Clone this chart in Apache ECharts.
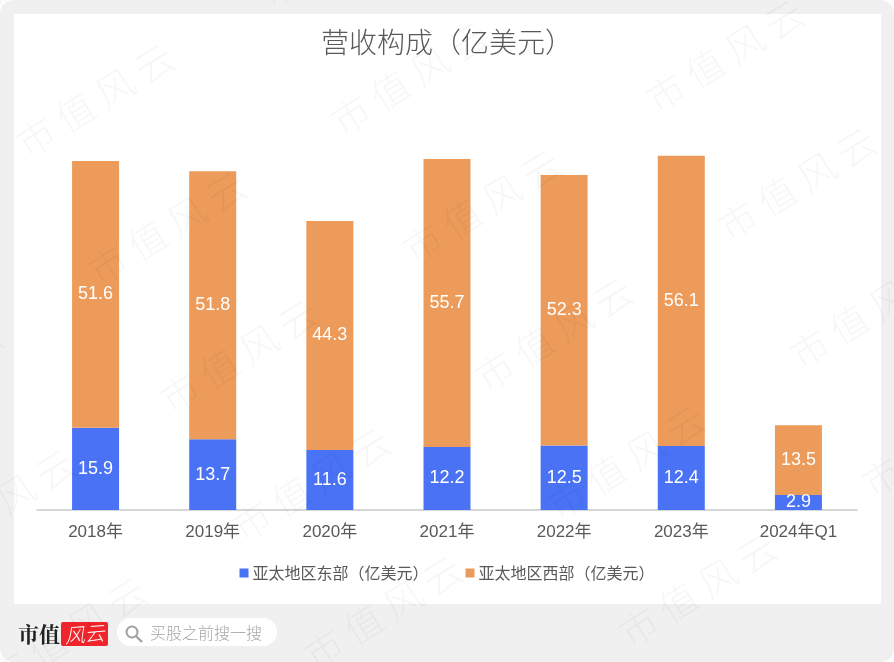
<!DOCTYPE html>
<html><head><meta charset="utf-8">
<style>html,body{margin:0;padding:0;background:#fff}#c{width:894px;height:662px}</style>
<script src="https://cdn.jsdelivr.net/npm/echarts@6/dist/echarts.min.js"></script>
</head><body><div id="c"></div>
<script>
const categories=['2018年','2019年','2020年','2021年','2022年','2023年','2024年Q1'];
const eastValues=[15.9,13.7,11.6,12.2,12.5,12.4,2.9];
const westValues=[51.6,51.8,44.3,55.7,52.3,56.1,13.5];
const eastName='亚太地区东部（亿美元）';
const westName='亚太地区西部（亿美元）';
const titleText='营收构成（亿美元）';
const cjk='"Noto Sans CJK SC","Liberation Sans",sans-serif';
const latin='"Liberation Sans","Noto Sans CJK SC",sans-serif';

const chart=echarts.init(document.getElementById('c'),null,{renderer:'canvas'});
const marks=[];
for(let r=-1;r<6;r++){for(let k=-1;k<5;k++){
  const x=95+k*315+r*72, y=100-k*22+r*128;
  if(x<-100||x>1000||y<-60||y>720)continue;
  marks.push({type:'text',x:x,y:y,rotation:32*Math.PI/180,z:100,silent:true,
    style:{text:'市 值 风 云',font:'300 38px '+cjk,fill:'rgba(0,0,0,0.035)',align:'center',verticalAlign:'middle'}});
}}
chart.setOption({
  animation:false,
  backgroundColor:'#fff',
  title:{text:titleText,left:'center',top:28,padding:0,
    textStyle:{fontFamily:cjk,fontSize:28,fontWeight:300,color:'#595959'}},
  legend:{bottom:76,left:'center',itemWidth:9,itemHeight:9,itemGap:37,icon:'rect',
    data:[eastName,westName],
    textStyle:{fontFamily:cjk,fontSize:16,color:'#595959',padding:[0,0,0,-1]}},
  grid:{left:37,right:37,top:96.4,bottom:152},
  xAxis:{type:'category',data:categories,
    axisTick:{show:false},
    axisLine:{lineStyle:{color:'#c9c9c9',width:1.5}},
    axisLabel:{fontFamily:latin,fontSize:17,color:'#595959',margin:14}},
  yAxis:{type:'value',min:0,max:80,show:false,splitLine:{show:false}},
  series:[
    {name:eastName,type:'bar',stack:'t',barWidth:47,data:eastValues,
     itemStyle:{color:'#4a72f5'},
     label:{show:true,position:'inside',color:'#fff',fontFamily:latin,fontSize:18}},
    {name:westName,type:'bar',stack:'t',barWidth:47,data:westValues,
     itemStyle:{color:'#ec9b5a'},
     label:{show:true,position:'inside',color:'#fff',fontFamily:latin,fontSize:18}}
  ],
  graphic:[
    {type:'rect',z:-20,silent:true,shape:{x:0,y:0,width:894,height:662,r:14},style:{fill:'#f0f0f0'}},
    {type:'rect',z:-10,silent:true,shape:{x:14,y:14,width:867,height:590},style:{fill:'#fff'}},
    {type:'text',x:18,y:634,z:5,silent:true,style:{text:'市值',font:'bold 21px "Noto Serif CJK SC","Noto Sans CJK SC",serif',fill:'#222',verticalAlign:'middle'}},
    {type:'rect',z:5,silent:true,shape:{x:61,y:622,width:47,height:24,r:2},style:{fill:'#f0252b'}},
    {type:'text',x:84.5,y:634,z:6,rotation:0.08,silent:true,style:{text:'风云',font:'italic 300 20px '+cjk,fill:'#fff',align:'center',verticalAlign:'middle'}},
    {type:'rect',z:5,silent:true,shape:{x:117,y:618,width:160,height:28,r:14},style:{fill:'#fff'}},
    {type:'circle',z:6,silent:true,shape:{cx:132,cy:632,r:5.5},style:{fill:'none',stroke:'#a0a0a0',lineWidth:2}},
    {type:'line',z:6,silent:true,shape:{x1:136,y1:636,x2:142,y2:642},style:{stroke:'#a0a0a0',lineWidth:2.2}},
    {type:'text',x:150,y:633,z:6,silent:true,style:{text:'买股之前搜一搜',font:'300 16px '+cjk,fill:'#a6a6a6',verticalAlign:'middle'}}
  ].concat(marks)
});
</script></body></html>
